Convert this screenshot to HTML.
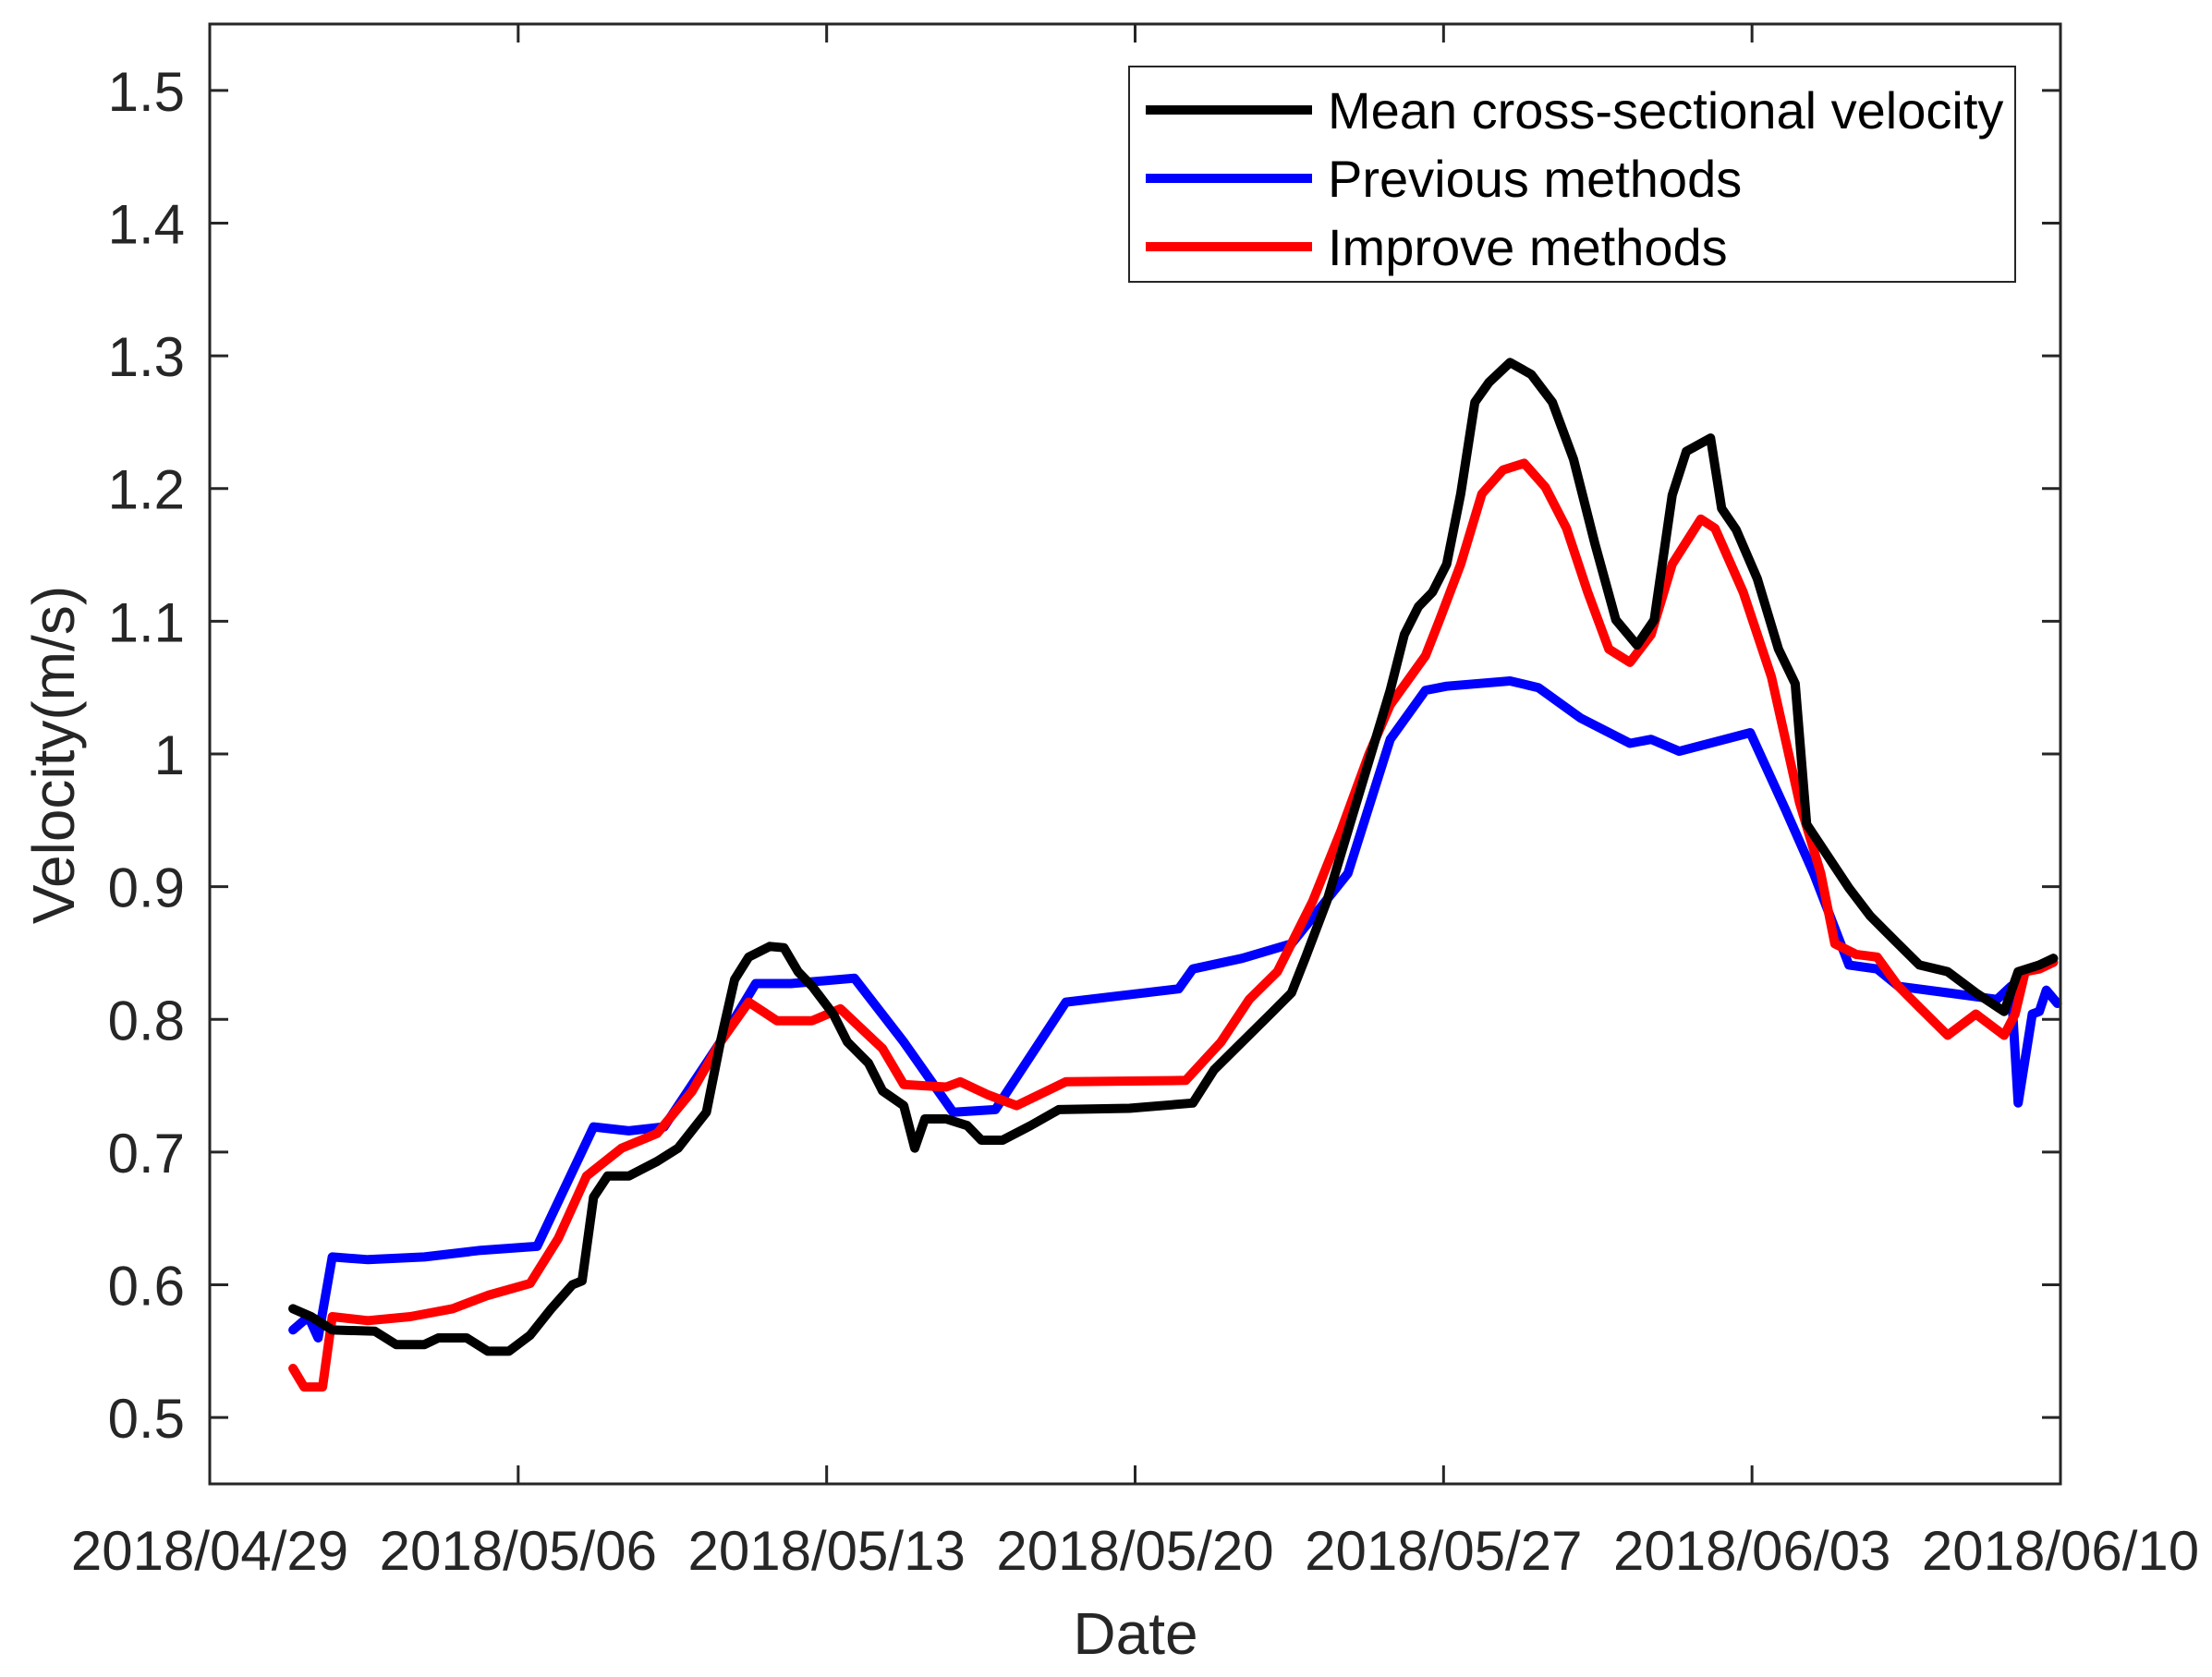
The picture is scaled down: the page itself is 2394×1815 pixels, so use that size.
<!DOCTYPE html>
<html><head><meta charset="utf-8"><style>
html,body{margin:0;padding:0;background:#fff;}
svg{display:block;font-family:"Liberation Sans",Arial,sans-serif;}
</style></head><body>
<svg id="chart" width="2394" height="1815" viewBox="0 0 2394 1815" xmlns="http://www.w3.org/2000/svg">
<rect x="0" y="0" width="2394" height="1815" fill="#fff"/>
<g id="grid"></g>
<g id="series"></g>
<rect x="227" y="26" width="2003" height="1580" fill="none" stroke="#262626" stroke-width="3"/>
<g id="ticks"></g>
<text x="0" y="0" transform="translate(80,817) rotate(-90)" text-anchor="middle" font-size="64" fill="#262626">Velocity(m/s)</text>
<text x="1229" y="1790" text-anchor="middle" font-size="64" fill="#262626">Date</text>
<g>
<rect x="1222" y="72" width="959" height="233" fill="#fff" stroke="#262626" stroke-width="2"/>
<line x1="1240" y1="119" x2="1420" y2="119" stroke="#000" stroke-width="10"/>
<text x="1437" y="139" font-size="56" fill="#000">Mean cross-sectional velocity</text>
<line x1="1240" y1="193" x2="1420" y2="193" stroke="#0000ff" stroke-width="10"/>
<text x="1437" y="213" font-size="56" fill="#000">Previous methods</text>
<line x1="1240" y1="267" x2="1420" y2="267" stroke="#ff0000" stroke-width="10"/>
<text x="1437" y="287" font-size="56" fill="#000">Improve methods</text>
</g>
</svg>
<script>
const xTickLabels=["2018/04/29","2018/05/06","2018/05/13","2018/05/20","2018/05/27","2018/06/03","2018/06/10"];
const xTickDays=[0,7,14,21,28,35,42];
const yTickValues=[0.5,0.6,0.7,0.8,0.9,1.0,1.1,1.2,1.3,1.4,1.5];
const yTickLabels=["0.5","0.6","0.7","0.8","0.9","1","1.1","1.2","1.3","1.4","1.5"];
const meanDays=[1.89,2.30,2.78,3.75,4.23,4.87,5.19,5.83,6.31,6.79,7.27,7.75,8.23,8.45,8.71,9.03,9.51,10.15,10.63,11.27,11.59,11.91,12.23,12.71,13.03,13.35,13.67,14.15,14.47,14.95,15.27,15.75,16.00,16.23,16.71,17.19,17.51,17.99,18.63,19.27,20.87,22.31,22.79,23.43,24.07,24.55,24.87,25.35,25.83,26.31,26.79,27.11,27.43,27.75,28.07,28.39,28.71,29.03,29.51,29.99,30.47,30.95,31.43,31.91,32.39,32.78,33.19,33.51,34.06,34.31,34.64,35.12,35.60,35.98,36.24,36.56,37.20,37.68,38.16,38.80,39.44,40.08,40.72,41.04,41.52,41.84];
const meanValues=[0.582,0.576,0.566,0.565,0.555,0.555,0.560,0.560,0.550,0.550,0.562,0.582,0.600,0.603,0.666,0.682,0.682,0.693,0.703,0.730,0.783,0.830,0.847,0.855,0.854,0.836,0.825,0.804,0.783,0.767,0.746,0.735,0.703,0.725,0.725,0.720,0.709,0.709,0.720,0.732,0.733,0.737,0.762,0.783,0.804,0.820,0.847,0.889,0.942,0.995,1.048,1.090,1.111,1.122,1.143,1.196,1.265,1.280,1.295,1.286,1.265,1.222,1.159,1.101,1.082,1.101,1.195,1.228,1.238,1.185,1.169,1.132,1.079,1.053,0.947,0.931,0.899,0.878,0.862,0.841,0.836,0.820,0.806,0.836,0.841,0.846];
const prevDays=[1.89,2.24,2.46,2.78,3.59,4.87,6.15,7.43,8.71,9.51,10.31,10.95,11.59,12.39,13.19,14.63,15.75,16.87,17.83,19.43,21.99,22.31,23.43,24.55,25.83,26.79,27.59,28.07,29.51,30.15,31.11,32.23,32.71,33.35,34.96,35.76,36.40,37.20,37.84,38.32,39.44,40.56,40.88,41.04,41.36,41.52,41.68,41.93];
const prevValues=[0.566,0.576,0.560,0.621,0.619,0.621,0.626,0.629,0.719,0.716,0.719,0.751,0.783,0.827,0.827,0.831,0.783,0.730,0.732,0.813,0.823,0.838,0.846,0.857,0.910,1.011,1.048,1.051,1.055,1.050,1.027,1.008,1.011,1.002,1.016,0.958,0.910,0.841,0.838,0.825,0.820,0.815,0.825,0.737,0.804,0.806,0.822,0.812];
const impDays=[1.89,2.14,2.56,2.78,3.59,4.55,5.51,6.31,7.27,7.91,8.55,9.35,10.15,10.95,11.59,12.23,12.87,13.67,14.31,15.27,15.75,16.71,17.03,17.67,18.31,19.43,22.15,22.95,23.59,24.23,25.03,25.67,26.31,26.79,27.59,27.91,28.39,28.87,29.35,29.83,30.31,30.79,31.27,31.75,32.23,32.71,33.19,33.84,34.16,34.80,35.44,36.08,36.56,36.88,37.36,37.84,38.32,38.80,39.44,40.08,40.72,40.97,41.20,41.52,41.84];
const impValues=[0.537,0.523,0.523,0.576,0.573,0.576,0.582,0.592,0.601,0.635,0.682,0.703,0.714,0.746,0.783,0.813,0.799,0.799,0.808,0.778,0.751,0.749,0.753,0.743,0.735,0.753,0.754,0.783,0.815,0.836,0.889,0.942,1.000,1.037,1.074,1.101,1.143,1.196,1.214,1.219,1.201,1.170,1.122,1.079,1.069,1.090,1.143,1.177,1.170,1.122,1.058,0.963,0.910,0.857,0.849,0.847,0.825,0.809,0.788,0.804,0.788,0.804,0.836,0.838,0.843];

const X0=227,X1=2230,Y0=1606,Y1=26,DMIN=0,DMAX=42,VMIN=0.45,VMAX=1.55;
function xs(d){return X0+(d-DMIN)/(DMAX-DMIN)*(X1-X0);}
function ys(v){return Y0-(v-VMIN)/(VMAX-VMIN)*(Y0-Y1);}
const NS="http://www.w3.org/2000/svg";
const ticks=document.getElementById('ticks');
function mk(tag,attrs,parent){const e=document.createElementNS(NS,tag);for(const k in attrs)e.setAttribute(k,attrs[k]);parent.appendChild(e);return e;}
xTickDays.forEach((d,i)=>{
  const x=xs(d);
  const t1=mk('line',{x1:x,y1:Y0,x2:x,y2:Y0-20,stroke:'#262626','stroke-width':3},ticks);
  
  
  const t2=mk('line',{x1:x,y1:Y1,x2:x,y2:Y1+20,stroke:'#262626','stroke-width':3},ticks);
  
  
  const tx=mk('text',{x:x,y:1699,'text-anchor':'middle','font-size':60,fill:'#262626'},ticks);
  tx.textContent=xTickLabels[i];
  
  
});
yTickValues.forEach((v,i)=>{
  const y=ys(v);
  const t1=mk('line',{x1:X0,y1:y,x2:X0+20,y2:y,stroke:'#262626','stroke-width':3},ticks);
  
  
  const t2=mk('line',{x1:X1,y1:y,x2:X1-20,y2:y,stroke:'#262626','stroke-width':3},ticks);
  
  
  const tx=mk('text',{x:200,y:y+22,'text-anchor':'end','font-size':60,fill:'#262626'},ticks);
  tx.textContent=yTickLabels[i];
  
  
});
const series=document.getElementById('series');
function line(days,vals,color,name){
  const pts=days.map((d,i)=>xs(d).toFixed(1)+','+ys(vals[i]).toFixed(1)).join(' ');
  const p=mk('polyline',{points:pts,fill:'none',stroke:color,'stroke-width':10,'stroke-linejoin':'round','stroke-linecap':'round'},series);
  
  
}
line(prevDays,prevValues,'#0000ff','previous-methods-line');
line(impDays,impValues,'#ff0000','improve-methods-line');
line(meanDays,meanValues,'#000000','mean-velocity-line');
</script>
</body></html>
